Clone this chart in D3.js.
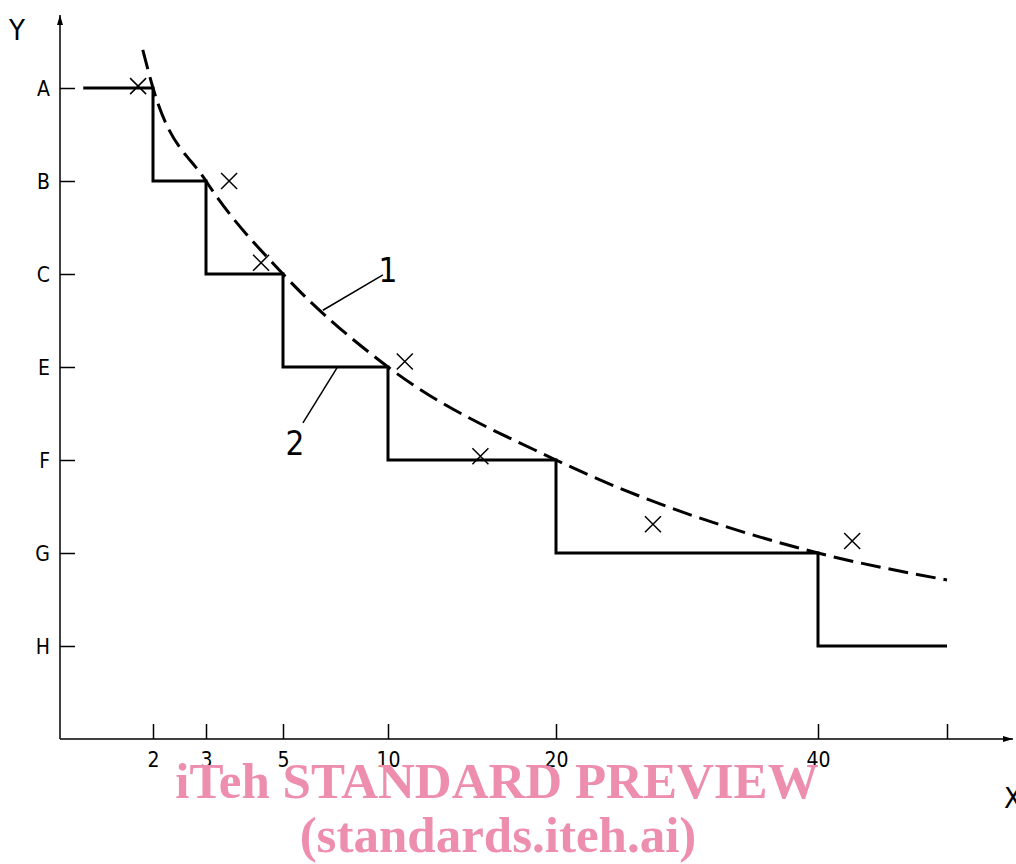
<!DOCTYPE html>
<html><head><meta charset="utf-8">
<script src="https://cdn.jsdelivr.net/npm/d3@7/dist/d3.min.js"></script>
<style>body{margin:0;background:#fff}svg{display:block}</style>
</head><body>
<svg id="c" width="1016" height="864"></svg>
<script>
// ---- data ----
const yCategories = ["A","B","C","E","F","G","H"];
const xTickValues = [2,3,5,10,20,40,60];
const xTickLabels = ["2","3","5","10","20","40",""];
// step line (x, level index)
const stepX = [0.5,2,3,5,10,20,40,60];
const stepY = [0,1,2,3,4,5,6,6];
// dashed curve (x, level index)
const curveX = [1.78,2,3,5,10,20,40,60];
const curveY = [-0.41,0,1,2,3,4,5,5.29];
// measured points (crosses)
const crossX = [1.68,3.6,4.43,11.0,15.5,27.4,45.3];
const crossY = [-0.02,1.0,1.88,2.94,3.96,4.69,4.87];

const svg = d3.select("#c");
const ink = "#000";
const font = "'DejaVu Sans Condensed','DejaVu Sans',sans-serif";

// piecewise scale (schematic, non-uniform spacing)
const x = d3.scaleLinear().domain([0,2,3,5,10,20,40,60]).range([60,153,206,283,388,556,818,947]);
const y = d3.scaleLinear().domain([0,7]).range([88,739]);

// axes lines with arrows
svg.append("defs").append("marker").attr("id","arr").attr("viewBox","0 0 10 6")
  .attr("refX",10).attr("refY",3).attr("markerWidth",12).attr("markerHeight",6)
  .attr("markerUnits","userSpaceOnUse").attr("orient","auto")
  .append("path").attr("d","M0,0L10,3L0,6Z").attr("fill",ink);

svg.append("line").attr("x1",x(0)).attr("y1",y(7)).attr("x2",x(0)).attr("y2",15)
  .attr("stroke",ink).attr("stroke-width",1.5).attr("marker-end","url(#arr)");
svg.append("line").attr("x1",x(0)).attr("y1",y(7)).attr("x2",1013).attr("y2",y(7))
  .attr("stroke",ink).attr("stroke-width",1.5).attr("marker-end","url(#arr)");

// y axis ticks
const yAxis = d3.axisLeft(y)
  .tickValues(d3.range(yCategories.length))
  .tickFormat(i => yCategories[i]).tickSizeInner(-15).tickSizeOuter(0).tickPadding(10);
const gy = svg.append("g").attr("transform",`translate(${x(0)},0)`).call(yAxis);
gy.select(".domain").remove();
gy.selectAll("line").attr("stroke",ink).attr("stroke-width",1.5);
gy.selectAll("text").attr("font-family",font).attr("font-weight",200).attr("font-size",21).attr("fill",ink).attr("dy","0.36em");

// x axis ticks
const xAxis = d3.axisBottom(x).tickValues(xTickValues)
  .tickFormat((d,i)=>xTickLabels[i]).tickSizeInner(-15).tickSizeOuter(0).tickPadding(13);
const gx = svg.append("g").attr("transform",`translate(0,${y(7)})`).call(xAxis);
gx.select(".domain").remove();
gx.selectAll("line").attr("stroke",ink).attr("stroke-width",1.5);
gx.selectAll("text").attr("font-family",font).attr("font-weight",200).attr("font-size",21).attr("fill",ink).attr("dy","0.71em");

// axis titles
svg.append("text").attr("x",17).attr("y",40).attr("text-anchor","middle")
  .attr("font-family",font).attr("font-weight",200).attr("font-size",29).attr("fill",ink).text("Y");
svg.append("text").attr("x",1013).attr("y",808).attr("text-anchor","middle")
  .attr("font-family",font).attr("font-weight",200).attr("font-size",29).attr("fill",ink).text("X");

// step line
const stepLine = d3.line().x(d=>x(d[0])).y(d=>y(d[1])).curve(d3.curveStepAfter);
svg.append("path").datum(stepX.map((v,i)=>[v,stepY[i]])).attr("d",stepLine)
  .attr("fill","none").attr("stroke",ink).attr("stroke-width",3);

// dashed curve
const curveLine = d3.line().x(d=>x(d[0])).y(d=>y(d[1])).curve(d3.curveMonotoneX);
svg.append("path").datum(curveX.map((v,i)=>[v,curveY[i]])).attr("d",curveLine)
  .attr("fill","none").attr("stroke",ink).attr("stroke-width",3).attr("stroke-dasharray","20,8");

// crosses
const cs = 8;
svg.append("g").selectAll("path").data(crossX.map((v,i)=>[v,crossY[i]])).join("path")
  .attr("d",d=>{const cx=x(d[0]),cy=y(d[1]);return `M${cx-cs},${cy-cs}L${cx+cs},${cy+cs}M${cx-cs},${cy+cs}L${cx+cs},${cy-cs}`;})
  .attr("stroke",ink).attr("stroke-width",1.5).attr("fill","none");

// leaders and labels
const leaders = [
  {x1:6.9,y1:2.39,x2:9.76,y2:2.01,lx:10.0,ly:2.09,t:"1"},
  {x1:7.57,y1:3.01,x2:5.95,y2:3.6,lx:5.57,ly:3.95,t:"2"}
];
leaders.forEach(l=>{
  svg.append("line").attr("x1",x(l.x1)).attr("y1",y(l.y1)).attr("x2",x(l.x2)).attr("y2",y(l.y2))
    .attr("stroke",ink).attr("stroke-width",1.5);
  svg.append("text").attr("x",x(l.lx)).attr("y",y(l.ly)).attr("text-anchor","middle")
    .attr("font-family",font).attr("font-weight",200).attr("font-size",33).attr("fill",ink).text(l.t);
});

// watermark
svg.append("text").attr("x",497).attr("y",798).attr("text-anchor","middle")
  .attr("font-family","'Liberation Serif','Times New Roman',serif").attr("font-weight","bold")
  .attr("font-size",51).attr("fill","#ee8eae").text("iTeh STANDARD PREVIEW");
svg.append("text").attr("x",498).attr("y",852).attr("text-anchor","middle")
  .attr("font-family","'Liberation Serif','Times New Roman',serif").attr("font-weight","bold")
  .attr("font-size",51).attr("fill","#ee8eae").text("(standards.iteh.ai)");
</script>
</body></html>
